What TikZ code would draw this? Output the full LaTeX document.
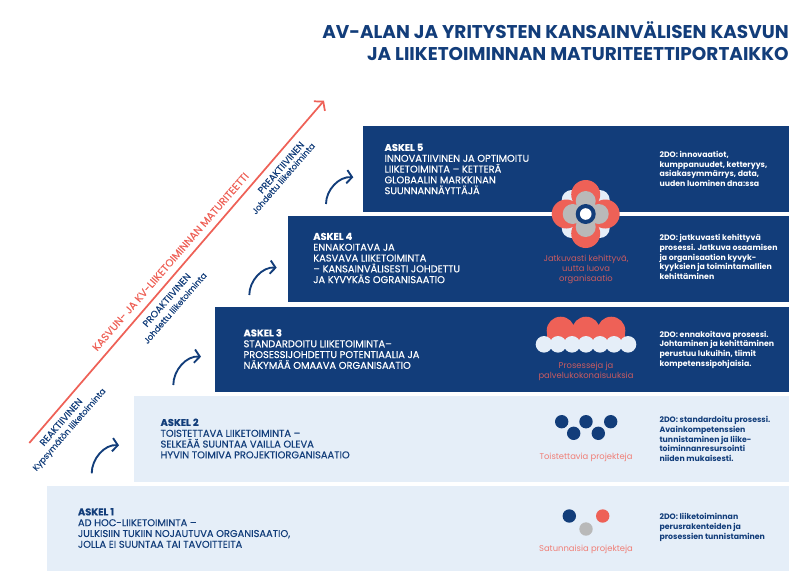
\documentclass[tikz,border=0pt]{standalone}
\usepackage{fontspec}
\setmainfont{Poppins}
\newfontfamily\medfont[FakeBold=0.25,BoldFont={Poppins Bold}]{Poppins}
\usetikzlibrary{arrows.meta}
\definecolor{navy}{HTML}{123D7A}
\definecolor{redc}{HTML}{EE6157}
\definecolor{pale}{HTML}{E5EEF8}
\definecolor{greyc}{HTML}{B9B9B9}
\definecolor{dimred}{HTML}{C95B60}
\definecolor{softred}{HTML}{F07F77}
\tikzset{
  x=0.75pt,y=-0.75pt,
  box/.style={anchor=north west,inner sep=0pt,outer sep=0pt,minimum height=#1*0.75pt},
  darkbox/.style={box=#1,fill=navy},
  palebox/.style={box=#1,fill=pale},
  steptext/.style={anchor=west,inner sep=0pt,align=left,font=\fontsize{7.4}{8.1}\medfont},
  todotext/.style={anchor=west,inner sep=0pt,align=left,font=\fontsize{5.85}{7.35}\selectfont\bfseries},
  iconlabel/.style={inner sep=0pt,align=center,font=\fontsize{6.3}{7.4}\selectfont},
  difflabel/.style={inner sep=0pt,rotate=49,text=navy,font=\fontsize{6.3}{6.5}\medfont},
  diffhead/.style={inner sep=0pt,rotate=49,text=navy,font=\fontsize{7.1}{6.5}\medfont},
  climb/.style={draw=navy,line width=1.4pt,-{Straight Barb[length=4pt,width=10pt,line width=1.4pt]}},
  dot/.style={circle,inner sep=0pt,minimum size=13.4*0.75pt},
}
\begin{document}
\begin{tikzpicture}
\useasboundingbox (0,0) rectangle (807,586);
% title
\node[anchor=north east,inner sep=0pt,align=right,text=navy,font=\fontsize{13.85}{16.5}\selectfont\bfseries] (title) at (789,21) {AV-ALAN JA YRITYSTEN KANSAINVÄLISEN KASVUN\\JA LIIKETOIMINNAN MATURITEETTIPORTAIKKO};
% step boxes
\node[darkbox=86,minimum width=426.5*0.75pt] (s5) at (362.5,126) {};
\node[darkbox=86,minimum width=501*0.75pt] (s4) at (288,216) {};
\node[darkbox=85.5,minimum width=574.5*0.75pt] (s3) at (214.5,306.5) {};
\node[palebox=86,minimum width=655*0.75pt] (s2) at (134,396) {};
\node[palebox=85,minimum width=742*0.75pt] (s1) at (47,486) {};
% step texts
\node[steptext,text=white] (t5) at (384.3,169) {\textbf{ASKEL 5}\\INNOVATIIVINEN JA OPTIMOITU\\LIIKETOIMINTA – KETTERÄ\\GLOBAALIN MARKKINAN\\SUUNNANNÄYTTÄJÄ};
\node[steptext,text=white] (t4) at (313,258) {\textbf{ASKEL 4}\\ENNAKOITAVA JA\\KASVAVA LIIKETOIMINTA\\– KANSAINVÄLISESTI JOHDETTU\\JA KYVYKÄS OGRANISAATIO};
\node[steptext,text=white] (t3) at (243.3,349) {\textbf{ASKEL 3}\\STANDARDOITU LIIKETOIMINTA–\\PROSESSIJOHDETTU POTENTIAALIA JA\\NÄKYMÄÄ OMAAVA ORGANISAATIO};
\node[steptext,text=navy] (t2) at (160.3,438.5) {\textbf{ASKEL 2}\\TOISTETTAVA LIIKETOIMINTA –\\SELKEÄÄ SUUNTAA VAILLA OLEVA\\HYVIN TOIMIVA PROJEKTIORGANISAATIO};
\node[steptext,text=navy] (t1) at (77.7,528) {\textbf{ASKEL 1}\\AD HOC-LIIKETOIMINTA –\\JULKISIIN TUKIIN NOJAUTUVA ORGANISAATIO,\\JOLLA EI SUUNTAA TAI TAVOITTEITA};
% todo texts
\node[todotext,text=white] (d5) at (659.3,169) {2DO: innovaatiot,\\kumppanuudet, ketteryys,\\asiakasymmärrys, data,\\uuden luominen dna:ssa};
\node[todotext,text=white] (d4) at (659.3,257) {2DO: jatkuvasti kehittyvä\\prosessi. Jatkuva osaamisen\\ja organisaation kyvyk-\\kyyksien ja toimintamallien\\kehittäminen};
\node[todotext,text=white] (d3) at (659.3,349.7) {2DO: ennakoitava prosessi.\\Johtaminen ja kehittäminen\\perustuu lukuihin, tiimit\\kompetenssipohjaisia.};
\node[todotext,text=navy] (d2) at (659.3,439) {2DO: standardoitu prosessi.\\Avainkompetenssien\\tunnistaminen ja liike-\\toiminnanresursointi\\niiden mukaisesti.};
\node[todotext,text=navy] (d1) at (659.3,527.7) {2DO: liiketoiminnan\\perusrakenteiden ja\\prosessien tunnistaminen};
% flower
\foreach \dx/\dy in {-14/-14,14/-14,-14/14,14/14}
  \fill[pale] (585.7+\dx,214+\dy) circle[radius=10*0.75pt];
\foreach \dx/\dy in {0/-19.5,0/19.5,-19.5/0,19.5/0}
  \fill[redc] (585.7+\dx,214+\dy) circle[radius=14.5*0.75pt];
\foreach \dx/\dy in {0/-13,0/13,-13/0,13/0}
  \fill[greyc] (585.7+\dx,214+\dy) circle[radius=10*0.75pt];
\fill[navy] (585.7,214) circle[radius=10*0.75pt];
\fill[white] (585.7,214) circle[radius=5.8*0.75pt];
\node[iconlabel,text=dimred] (l4) at (586,269.7) {Jatkuvasti kehittyvä,\\uutta luova\\organisaatio};
% process icon
\foreach \cx in {560.7,586,611.3}
  \fill[redc] (\cx,330.7) circle[radius=14*0.75pt];
\fill[redc] (546.7,330.7) rectangle (625.3,345);
\foreach \cx in {544,558,572,586,600,614,628}
  \fill[pale] (\cx,344.3) circle[radius=8.3*0.75pt];
\node[iconlabel,text=dimred] (l3) at (586,371.5) {Prosesseja ja\\palvelukokonaisuuksia};
% repeatable projects
\node[dot,fill=navy] (p1) at (561.7,421.7) {};
\node[dot,fill=navy] (p2) at (586,421.7) {};
\node[dot,fill=navy] (p3) at (610.7,421.7) {};
\node[dot,fill=navy] (p4) at (573.7,433.3) {};
\node[dot,fill=navy] (p5) at (598.3,433.3) {};
\node[iconlabel,text=softred] (l2) at (586,457.3) {Toistettavia projekteja};
% random projects
\node[dot,fill=navy] (q1) at (569.3,516) {};
\node[dot,fill=redc] (q2) at (602.7,516) {};
\node[dot,fill=greyc] (q3) at (586,529) {};
\node[iconlabel,text=softred] (l1) at (586,549.3) {Satunnaisia projekteja};
% maturity arrow
\coordinate (mstart) at (29.3,443);
\coordinate (mend) at (324,100.7);
\draw[redc,line width=1.3pt,-{Straight Barb[length=4.5pt,width=11pt,line width=1.3pt]}] (mstart) -- (mend);
\node[inner sep=0pt,rotate=49,text=redc,font=\fontsize{7.8}{9}\medfont] (mlabel) at (170.5,261.7) {KASVUN- JA KV-LIIKETOIMINNAN MATURITEETTI};
% side labels
\node[diffhead] (a1) at (61,422) {REAKTIIVINEN};
\node[difflabel] (a2) at (69.7,430) {Kypsymätön liiketoiminta};
\node[diffhead] (b1) at (166.7,300) {PROAKTIIVINEN};
\node[difflabel] (b2) at (175,308) {Johdettu liiketoiminta};
\node[diffhead] (c1) at (281,167.5) {PREAKTIIVINEN};
\node[difflabel] (c2) at (283.3,178.5) {Johdettu liiketoiminta};
% climbing arrows
\coordinate (u1) at (91.7,473.3); \coordinate (v1) at (119,445.3);
\coordinate (u2) at (173.3,385); \coordinate (v2) at (201,356.7);
\coordinate (u3) at (249.3,295); \coordinate (v3) at (276.7,267.7);
\coordinate (u4) at (326,204); \coordinate (v4) at (353.3,177.3);
\foreach \i in {1,2,3,4}
  \draw[climb] (u\i) to[out=90,in=175,looseness=0.95] (v\i);
\end{tikzpicture}
\end{document}
